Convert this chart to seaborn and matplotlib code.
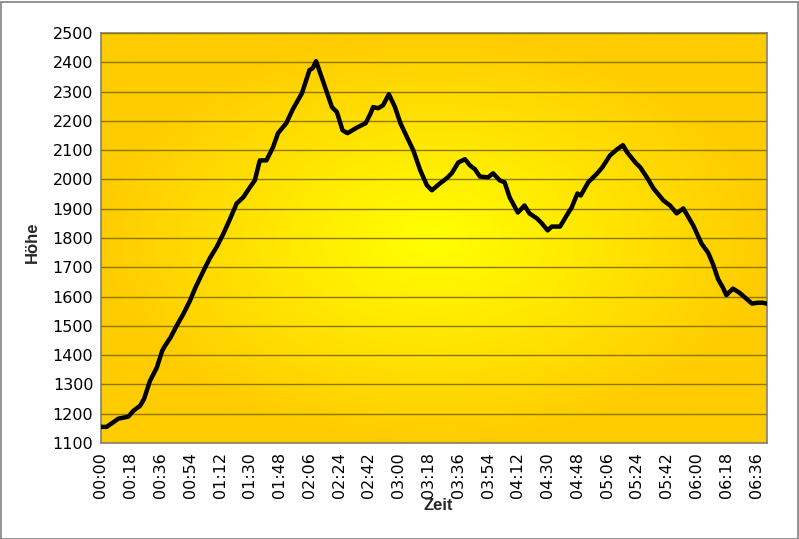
import numpy as np
import matplotlib
matplotlib.use("Agg")
import matplotlib.pyplot as plt
from matplotlib.colors import LinearSegmentedColormap
from matplotlib.patches import Rectangle
import seaborn as sns

sns.set_style("white")
plt.rcParams['font.family'] = ['Liberation Sans', 'DejaVu Sans']

# elapsed time in minutes and altitude in m
minutes = [0, 3.4, 10.5, 16.5, 19.6, 23.6, 26, 29.6, 33.7, 37, 38.7, 42, 45.7, 49.8,
           53.8, 56.8, 60, 63, 66, 70, 74, 78, 82, 86, 90, 93, 96, 100, 104, 107,
           112, 116, 121.5, 126, 128, 130, 134, 139.6, 142.6, 146, 149, 155, 160,
           163, 164.5, 167.5, 170.5, 174, 177.7, 181, 185, 188.8, 193, 197, 200,
           205, 209, 212, 216, 220, 223, 226, 229, 234, 237, 241, 244, 247, 252,
           256, 259, 263.5, 266.5, 270, 272.5, 277.5, 281.5, 284.5, 288, 290,
           294.5, 300, 303, 307.7, 312, 315.5, 318, 323, 326, 330, 334, 340, 344,
           348, 352, 358, 363, 367, 370, 373, 376, 378, 382, 386, 393.5, 397, 400,
           402.5]
hoehe = [1155, 1155, 1183, 1190, 1210, 1227, 1250, 1312, 1357, 1415, 1432, 1460,
         1500, 1541, 1586, 1627, 1665, 1700, 1733, 1770, 1815, 1865, 1918, 1939,
         1973, 1997, 2065, 2065, 2110, 2158, 2192, 2240, 2295, 2373, 2380, 2404,
         2339, 2247, 2230, 2168, 2158, 2178, 2192, 2226, 2247, 2243, 2253, 2291,
         2247, 2192, 2144, 2099, 2031, 1980, 1963, 1987, 2004, 2021, 2058, 2069,
         2048, 2035, 2010, 2007, 2021, 1997, 1990, 1939, 1887, 1911, 1884, 1867,
         1850, 1826, 1839, 1839, 1877, 1904, 1952, 1945, 1990, 2021, 2041, 2082,
         2103, 2117, 2093, 2058, 2041, 2007, 1969, 1928, 1911, 1884, 1901, 1843,
         1781, 1750, 1710, 1660, 1630, 1605, 1627, 1613, 1576, 1579, 1579, 1576]

tick_minutes = list(range(0, 397, 18))
tick_labels = ["%02d:%02d" % (m // 60, m % 60) for m in tick_minutes]
y_ticks = list(range(1100, 2501, 100))

fig = plt.figure(figsize=(7.99, 5.39), dpi=100)
ax = fig.add_axes([101 / 799, 1 - 443 / 539, 666 / 799, 410 / 539])

# radial gradient background, orange edges -> yellow centre
xx, yy = np.meshgrid(np.linspace(-1, 1, 400), np.linspace(-1, 1, 300))
rr = np.clip(np.sqrt(xx ** 2 + yy ** 2), 0, 1)
cmap = LinearSegmentedColormap.from_list("bg", ["#FFFF00", "#FFCC00"])
ax.imshow(rr, cmap=cmap, extent=[0, 402.6, 1100, 2500], aspect="auto",
          origin="lower", zorder=0, interpolation="bilinear")

sns.lineplot(x=minutes, y=hoehe, ax=ax, color="black", lw=3.2, zorder=3)

ax.set_xlim(0, 402.6)
ax.set_ylim(1100, 2500)
ax.set_xticks(tick_minutes)
ax.set_xticklabels(tick_labels, rotation=90)
ax.set_yticks(y_ticks)
ax.yaxis.grid(True, color="#8c7800", lw=1)
ax.xaxis.grid(False)
ax.set_axisbelow(False)
for line in ax.get_ygridlines():
    line.set_zorder(1)

# tick labels are wide in the original, DejaVu comes closer than Arial
ax.tick_params(axis="both", direction="out", length=4, width=1, color="#808080",
               labelsize=11.5, labelcolor="black")
ax.tick_params(axis="x", pad=2.5)
ax.tick_params(axis="y", pad=1.5)
for lab in ax.get_xticklabels() + ax.get_yticklabels():
    lab.set_family("DejaVu Sans")
for s in ax.spines.values():
    s.set_color("#808080")
    s.set_linewidth(1.2)

ax.set_xlabel("Zeit", fontsize=12, fontweight="bold")
ax.set_ylabel("Höhe", fontsize=12, fontweight="bold")
ax.xaxis.set_label_coords(0.506, -0.133)
ax.yaxis.set_label_coords(-0.092, 0.49)

fig.patches.append(Rectangle((0.5 / 799, 0.5 / 539), 797 / 799, 537 / 539,
                             transform=fig.transFigure, fill=False,
                             edgecolor="#808080", lw=1.2))

fig.savefig("out.png", dpi=100)
